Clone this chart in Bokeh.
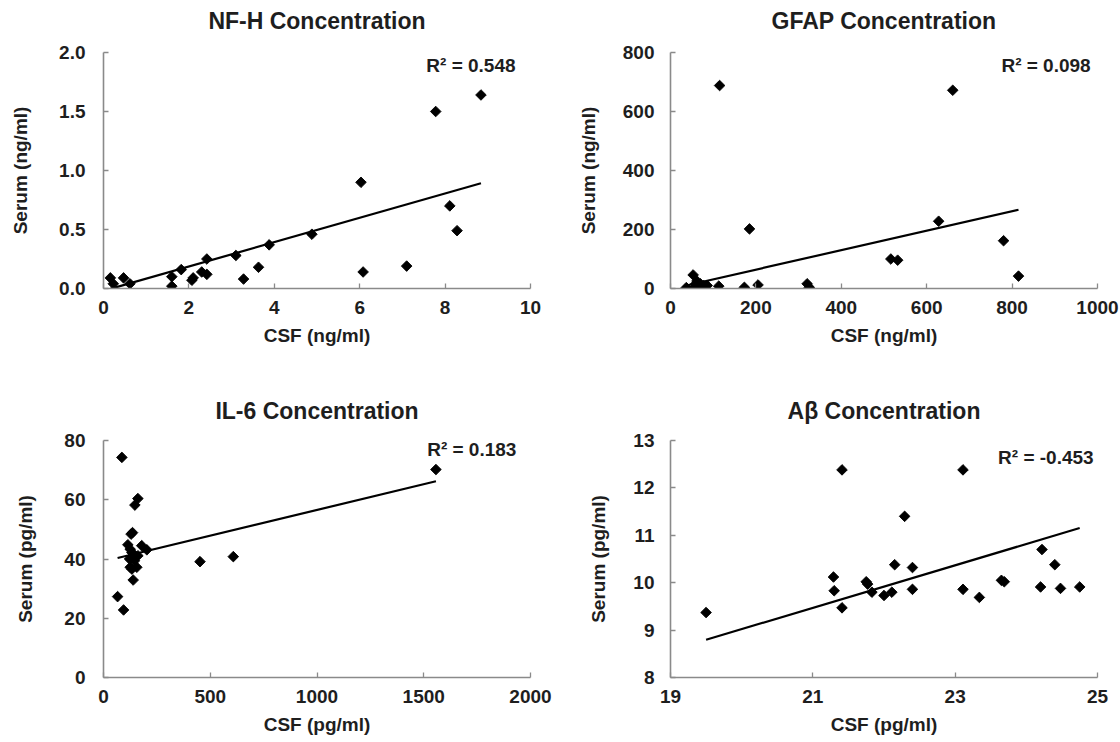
import numpy as np
from bokeh.plotting import figure
from bokeh.layouts import gridplot
from bokeh.models import Range1d, FixedTicker, Label, NumeralTickFormatter, Title
from bokeh.embed import file_html
from bokeh.resources import INLINE

# ---------------- data ----------------
nfh_csf = [0.16, 0.23, 0.47, 0.62, 1.60, 1.60, 1.82, 2.07, 2.10, 2.30, 2.42, 2.42,
           3.10, 3.28, 3.63, 3.88, 4.88, 6.03, 6.08, 7.10, 7.78, 8.11, 8.28, 8.84]
nfh_serum = [0.09, 0.04, 0.09, 0.04, 0.10, 0.02, 0.16, 0.07, 0.09, 0.14, 0.12, 0.25,
             0.28, 0.08, 0.18, 0.37, 0.46, 0.90, 0.14, 0.19, 1.50, 0.70, 0.49, 1.64]
nfh_fit = [0.1032, -0.02]          # slope, intercept of the drawn trend line
nfh_r2 = "R\u00b2 = 0.548"

gfap_csf = [37, 55, 53, 58, 62, 66, 70, 78, 86, 113, 115, 173, 185, 205, 320, 325,
            516, 532, 628, 661, 780, 815]
gfap_serum = [3, 2, 46, 14, 25, 8, 16, 10, 10, 8, 688, 4, 202, 12, 16, 4,
              100, 96, 228, 672, 162, 42]
gfap_fit = [0.33, -2.0]
gfap_r2 = "R\u00b2 = 0.098"

il6_csf = [86, 66, 94, 161, 147, 136, 129, 114, 125, 179, 203, 133, 148, 161, 122,
           145, 125, 156, 133, 139, 452, 608, 1557]
il6_serum = [74.3, 27.3, 22.8, 60.4, 58.2, 48.9, 48.4, 44.8, 43.3, 44.5, 43.1, 42.2,
             41.1, 41.1, 40.0, 39.4, 37.2, 37.2, 36.6, 32.9, 39.1, 40.8, 70.2]
il6_fit = [0.01736, 39.2]
il6_r2 = "R\u00b2 = 0.183"

ab_csf = [19.50, 21.29, 21.30, 21.41, 21.41, 21.75, 21.77, 21.83, 22.00, 22.11, 22.15,
          22.29, 22.40, 22.40, 23.11, 23.11, 23.34, 23.65, 23.69, 24.20, 24.22, 24.40,
          24.48, 24.75]
ab_serum = [9.37, 10.12, 9.83, 12.38, 9.47, 10.02, 9.97, 9.80, 9.73, 9.80, 10.38,
            11.40, 10.32, 9.86, 12.38, 9.86, 9.69, 10.05, 10.02, 9.91, 10.70, 10.38,
            9.88, 9.91]
ab_fit = [0.449, 0.04]
ab_r2 = "R\u00b2 = -0.453"

titles = ["NF-H Concentration", "GFAP Concentration", "IL-6 Concentration", "A\u03b2 Concentration"]
x_labels = ["CSF (ng/ml)", "CSF (ng/ml)", "CSF (pg/ml)", "CSF (pg/ml)"]
y_labels = ["Serum (ng/ml)", "Serum (ng/ml)", "Serum (pg/ml)", "Serum (pg/ml)"]

nfh_xticks = [0, 2, 4, 6, 8, 10]
nfh_yticks = [0.0, 0.5, 1.0, 1.5, 2.0]
gfap_xticks = [0, 200, 400, 600, 800, 1000]
gfap_yticks = [0, 200, 400, 600, 800]
il6_xticks = [0, 500, 1000, 1500, 2000]
il6_yticks = [0, 20, 40, 60, 80]
ab_xticks = [19, 21, 23, 25]
ab_yticks = [8, 9, 10, 11, 12, 13]

# ---------------- styling ----------------
FONT = "Liberation Sans"
TXT = "#1e1e1e"
AXC = "#8a8a8a"


def panel(title, xlabel, ylabel, csf, serum, fit, r2text, xticks, yticks, yfmt,
          width, height, borders, title_shift, gap_font, ylab_standoff,
          ytick_standoff, r2pos):
    xr = (xticks[0], xticks[-1])
    yr = (yticks[0], yticks[-1])
    p = figure(width=width, height=height, output_backend="svg", toolbar_location=None,
               x_range=Range1d(*xr), y_range=Range1d(*yr),
               min_border_left=borders[0], min_border_right=borders[1],
               min_border_top=borders[2], min_border_bottom=borders[3])
    p.outline_line_color = None
    p.grid.visible = False
    p.background_fill_color = "white"
    p.border_fill_color = "white"

    # blank line between the plot area and the title, to lift the title
    p.add_layout(Title(text=" ", text_font=FONT, text_font_size=gap_font, standoff=0),
                 "above")

    p.title.text = title
    p.title.text_font = FONT
    p.title.text_font_style = "bold"
    p.title.text_font_size = "23px"
    p.title.text_color = TXT
    p.title.align = "center"
    p.title.offset = title_shift
    p.title.standoff = 0

    for ax, ticks in ((p.xaxis[0], xticks), (p.yaxis[0], yticks)):
        ax.ticker = FixedTicker(ticks=ticks)
        ax.axis_line_color = AXC
        ax.axis_line_width = 1.6
        ax.major_tick_line_color = AXC
        ax.major_tick_line_width = 1.3
        ax.major_tick_in = 5
        ax.major_tick_out = 0
        ax.minor_tick_line_color = None
        ax.major_label_text_font = FONT
        ax.major_label_text_font_style = "bold"
        ax.major_label_text_font_size = "19px"
        ax.major_label_text_color = TXT
        ax.axis_label_text_font = FONT
        ax.axis_label_text_font_style = "bold"
        ax.axis_label_text_font_size = "19px"
        ax.axis_label_text_color = TXT
    p.xaxis.axis_label = xlabel
    p.yaxis.axis_label = ylabel
    p.xaxis.major_label_standoff = 12
    p.yaxis.major_label_standoff = ytick_standoff
    p.xaxis.axis_label_standoff = 8
    p.yaxis.axis_label_standoff = ylab_standoff
    if yfmt:
        p.yaxis.formatter = NumeralTickFormatter(format=yfmt)

    x0, x1 = min(csf), max(csf)
    p.line([x0, x1], [fit[0] * x0 + fit[1], fit[0] * x1 + fit[1]],
           line_color="black", line_width=2.2)
    p.scatter(csf, serum, marker="square", angle=np.pi / 4, size=7.5,
              fill_color="black", line_color="black", line_width=0.9)

    p.add_layout(Label(x=xr[0] + r2pos[0] * (xr[1] - xr[0]),
                       y=yr[0] + r2pos[1] * (yr[1] - yr[0]),
                       text=r2text, text_align="right", text_baseline="middle",
                       text_font=FONT, text_font_style="bold",
                       text_font_size="19px", text_color=TXT))
    return p


W_L, W_R = 565, 555
H_T, H_B = 385, 357

p1 = panel(titles[0], x_labels[0], y_labels[0], nfh_csf, nfh_serum, nfh_fit, nfh_r2,
           nfh_xticks, nfh_yticks, "0.0", W_L, H_T, (103, 35, 52, 97),
           8, "16px", 25, 18, (0.965, 0.945))
p2 = panel(titles[1], x_labels[1], y_labels[1], gfap_csf, gfap_serum, gfap_fit, gfap_r2,
           gfap_xticks, gfap_yticks, None, W_R, H_T, (105, 23, 52, 97),
           0, "16px", 21, 16, (0.984, 0.945))
p3 = panel(titles[2], x_labels[2], y_labels[2], il6_csf, il6_serum, il6_fit, il6_r2,
           il6_xticks, il6_yticks, None, W_L, H_B, (103, 35, 55, 65),
           0, "13.5px", 25, 18, (0.967, 0.962))
p4 = panel(titles[3], x_labels[3], y_labels[3], ab_csf, ab_serum, ab_fit, ab_r2,
           ab_xticks, ab_yticks, None, W_R, H_B, (105, 23, 55, 65),
           5, "13.5px", 21, 16, (0.991, 0.928))

grid = gridplot([[p1, p2], [p3, p4]], toolbar_location=None)

open("out.html", "w").write(file_html(grid, INLINE))
